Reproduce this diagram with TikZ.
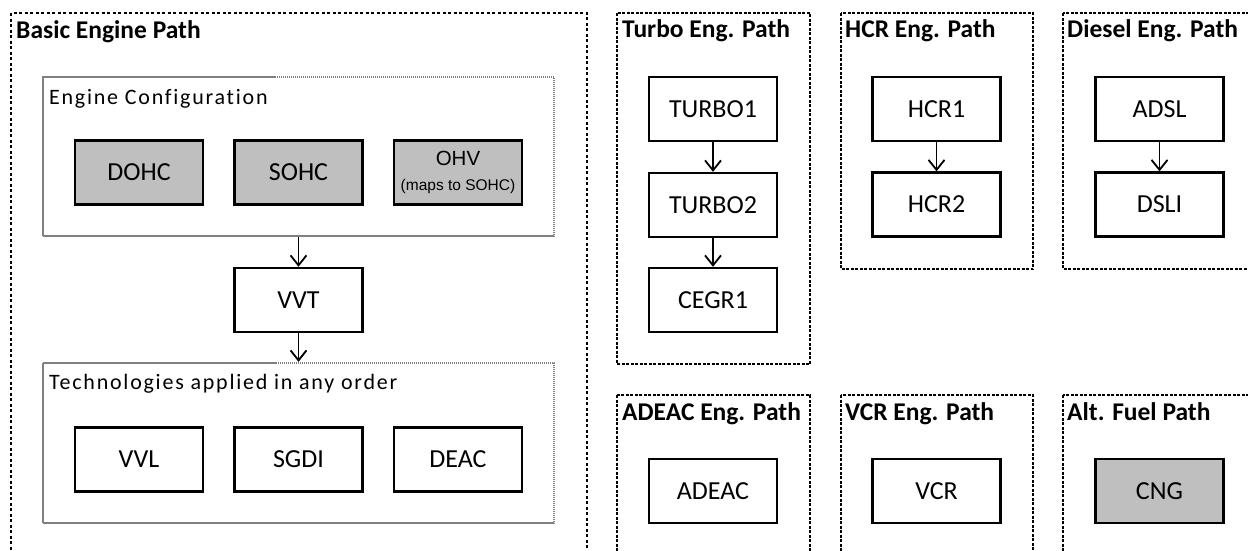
\documentclass[tikz,border=0pt]{standalone}
\usepackage{fontspec}
\setmainfont{Carlito}
\newfontfamily\arialfont{Liberation Sans}
\usetikzlibrary{arrows.meta}
\definecolor{techgray}{HTML}{BFBFBF}
\tikzset{
	techbox/.style={draw, line width=2.4pt, minimum width=128pt, minimum height=64pt, inner sep=0pt, font=\fontsize{26}{30}\selectfont},
	techgrey/.style={techbox, fill=techgray},
	groupbox/.style={draw=black!50, line width=2.4pt, dash pattern=on 1.5pt off 0.5pt, inner sep=0pt},
	pathbox/.style={line width=1.3pt, dash pattern=on 3pt off 1.5pt},
	pathtitle/.style={anchor=base west, inner sep=0pt, font=\bfseries\fontsize{25.5}{30}\selectfont},
	grouptitle/.style={anchor=base west, inner sep=0pt, font=\fontsize{22}{26}\selectfont\addfontfeatures{LetterSpace=8,Ligatures=NoCommon}},
	flow/.style={-{Straight Barb[length=10pt,width=16pt]}, line width=1.8pt}
}
\begin{document}
\begin{tikzpicture}[x=1pt,y=1pt]
	\useasboundingbox (0,0) rectangle (1248,-550);
	\clip (0,0) rectangle (1248,-550);
	% path frames
	\draw [pathbox, line width=1.8pt, dash pattern=on 3pt off 2.5pt] (11,-13) rectangle (587,-570);
	\draw [pathbox] (617,-13) rectangle (810,-364);
	\draw [pathbox] (841,-13) rectangle (1033,-269);
	\draw [pathbox] (1063,-13) rectangle (1260,-269);
	\draw [pathbox] (617,-395) rectangle (810,-570);
	\draw [pathbox] (841,-395) rectangle (1033,-570);
	\draw [pathbox] (1063,-395) rectangle (1260,-570);
	\node [pathtitle] (tbasic) at (16,-38) {Basic Engine Path};
	\node [pathtitle] (tturbo) at (622,-37) {Turbo Eng. Path};
	\node [pathtitle] (thcr) at (845,-37) {HCR Eng. Path};
	\node [pathtitle] (tdiesel) at (1067,-37) {Diesel Eng. Path};
	\node [pathtitle] (tadeac) at (622,-420) {ADEAC Eng. Path};
	\node [pathtitle] (tvcr) at (845,-420) {VCR Eng. Path};
	\node [pathtitle] (talt) at (1067,-420) {Alt. Fuel Path};
	% basic engine path
	\node [groupbox, minimum width=511pt, minimum height=159pt] (config) at (298.5,-156.5) {};
	\node [grouptitle] (tconfig) at (49,-104) {Engine Configuration};
	\node [techgrey] (dohc) at (139,-172.5) {DOHC};
	\node [techgrey] (sohc) at (298.5,-172.5) {SOHC};
	\node [techgrey, align=center, font=\arialfont\fontsize{20.5}{25}\selectfont] (ohv) at (458,-172.5) {OHV\\{\fontsize{15.5}{18}\selectfont (maps to SOHC)}};
	\node [techbox] (vvt) at (298.5,-300) {VVT};
	\node [groupbox, minimum width=511pt, minimum height=160pt] (techs) at (298.5,-443) {};
	\node [grouptitle] (ttechs) at (49,-389) {Technologies applied in any order};
	\node [techbox] (vvl) at (139,-459.5) {VVL};
	\node [techbox] (sgdi) at (298.5,-459.5) {SGDI};
	\node [techbox] (deac) at (458,-459.5) {DEAC};
	\draw [flow] (config.south) -- (vvt.north);
	\draw [flow] (vvt.south) -- (techs.north);
	% turbo, hcr, diesel
	\node [techbox] (turbo1) at (713,-109) {TURBO1};
	\node [techbox] (turbo2) at (713,-205) {TURBO2};
	\node [techbox] (cegr1) at (713,-300) {CEGR1};
	\draw [flow] (turbo1) -- (turbo2);
	\draw [flow] (turbo2) -- (cegr1);
	\node [techbox] (hcr1) at (936.5,-109) {HCR1};
	\node [techbox] (hcr2) at (936.5,-204.5) {HCR2};
	\draw [flow] (hcr1) -- (hcr2);
	\node [techbox] (adsl) at (1159.5,-109) {ADSL};
	\node [techbox] (dsli) at (1159.5,-204.5) {DSLI};
	\draw [flow] (adsl) -- (dsli);
	% single technology paths
	\node [techbox] (adeac) at (713,-491) {ADEAC};
	\node [techbox] (vcr) at (936.5,-491) {VCR};
	\node [techgrey] (cng) at (1159.5,-491) {CNG};
\end{tikzpicture}
\end{document}
